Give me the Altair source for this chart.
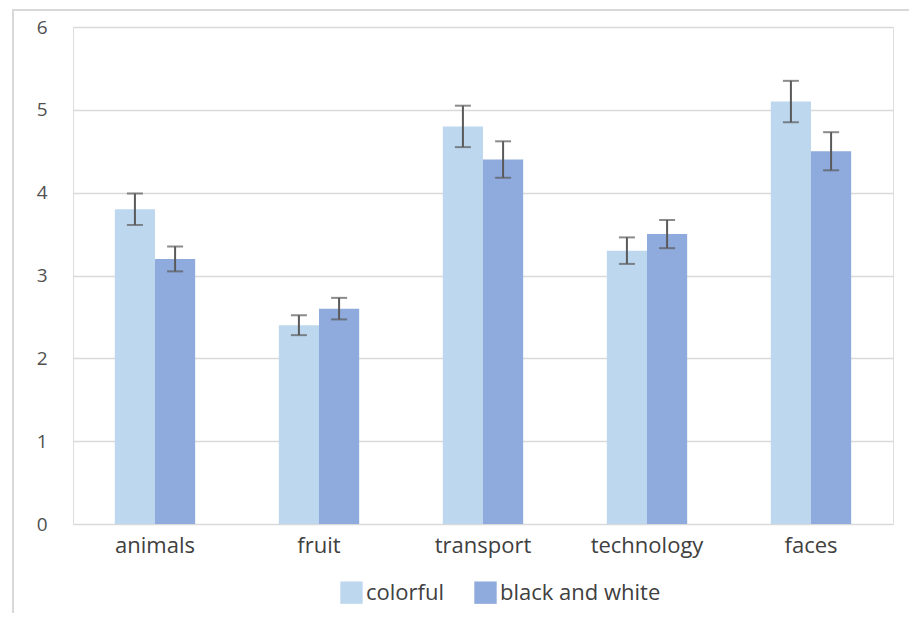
import altair as alt
import pandas as pd

categories = ["animals", "fruit", "transport", "technology", "faces"]
series = ["colorful", "black and white"]
colorful = [3.8, 2.4, 4.8, 3.3, 5.1]
colorful_err = [0.19, 0.12, 0.25, 0.16, 0.25]
bw = [3.2, 2.6, 4.4, 3.5, 4.5]
bw_err = [0.15, 0.13, 0.22, 0.17, 0.23]
colors = ["#BDD7EE", "#8FAADC"]

rows = []
for i, c in enumerate(categories):
    rows.append({"category": c, "series": series[0], "value": colorful[i], "err": colorful_err[i]})
    rows.append({"category": c, "series": series[1], "value": bw[i], "err": bw_err[i]})
df = pd.DataFrame(rows)
df["lo"] = df["value"] - df["err"]
df["hi"] = df["value"] + df["err"]

FONT = "Open Sans"
W, H = 820, 497

x = alt.X("category:N", sort=categories, title=None,
          scale=alt.Scale(paddingInner=0.51, paddingOuter=0.255),
          axis=alt.Axis(labelAngle=0, labelFontSize=22, labelColor="#404040", labelFont=FONT,
                        ticks=False, domain=False, labelPadding=11))
xo = alt.XOffset("series:N", sort=series, scale=alt.Scale(paddingInner=0, paddingOuter=0))

bars = alt.Chart(df).mark_bar().encode(
    x=x, xOffset=xo,
    y=alt.Y("value:Q", title=None, scale=alt.Scale(domain=[0, 6]),
            axis=alt.Axis(values=[0, 1, 2, 3, 4, 5, 6], format="d", labelFontSize=19,
                          labelColor="#505050", labelFont=FONT, ticks=False, domain=False,
                          labelPadding=26, gridColor="#D9D9D9", gridWidth=1.5)),
    color=alt.Color("series:N", sort=series, title=None,
                    scale=alt.Scale(domain=series, range=colors),
                    legend=alt.Legend(orient="none", legendX=267, legendY=554,
                                      direction="horizontal", symbolType="square",
                                      symbolSize=500, symbolStrokeWidth=0, labelFontSize=22,
                                      labelFont=FONT, labelColor="#404040", columnPadding=30,
                                      labelOffset=3, labelLimit=400))
)

rules = alt.Chart(df).mark_rule(color="#5A5A5A", strokeWidth=2).encode(
    x=x, xOffset=xo, y="lo:Q", y2="hi:Q")
caps_lo = alt.Chart(df).mark_tick(color="#5A5A5A", thickness=2, size=16).encode(
    x=x, xOffset=xo, y="lo:Q")
caps_hi = alt.Chart(df).mark_tick(color="#5A5A5A", thickness=2, size=16).encode(
    x=x, xOffset=xo, y="hi:Q")

border = alt.Chart(df).mark_rect(fill="transparent", stroke="#D9D9D9", strokeWidth=1.5).encode(
    x=alt.value(-60), x2=alt.value(W + 200), y=alt.value(-17), y2=alt.value(H + 200))

chart = alt.layer(border, bars, rules, caps_lo, caps_hi).properties(
    width=W, height=H,
    autosize=alt.AutoSizeParams(type="none"),
    padding={"left": 65, "top": 19, "right": 16, "bottom": 89},
).configure_view(stroke=None).configure(font=FONT)

chart.save("out.html", embed_options={"renderer": "svg", "actions": False})
